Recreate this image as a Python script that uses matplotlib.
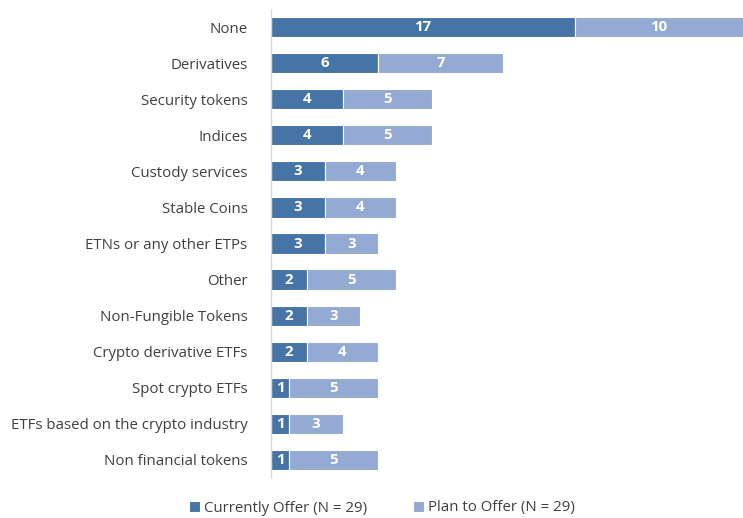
import matplotlib
matplotlib.use("Agg")
import matplotlib.pyplot as plt
import numpy as np

plt.rcParams['font.family'] = ['Open Sans', 'DejaVu Sans']

categories = ["None", "Derivatives", "Security tokens", "Indices", "Custody services",
              "Stable Coins", "ETNs or any other ETPs", "Other", "Non-Fungible Tokens",
              "Crypto derivative ETFs", "Spot crypto ETFs",
              "ETFs based on the crypto industry", "Non financial tokens"]
current = [17, 6, 4, 4, 3, 3, 3, 2, 2, 2, 1, 1, 1]
plan = [10, 7, 5, 5, 4, 4, 3, 5, 3, 4, 5, 3, 5]

dark = "#4674a7"
light = "#94aad3"

fig = plt.figure(figsize=(7.43, 5.18), dpi=100)
ax = fig.add_axes([271 / 743, 1 - 478 / 518, 1 - 271 / 743, 469 / 518])

y = np.arange(len(categories))
h = 0.56
b1 = ax.barh(y, current, height=h, color=dark, edgecolor="white", linewidth=0.8,
             label="Currently Offer (N = 29)")
b2 = ax.barh(y, plan, left=current, height=h, color=light, edgecolor="white", linewidth=0.8,
             label="Plan to Offer (N = 29)")

for bars in (b1, b2):
    ax.bar_label(bars, labels=[str(int(b.get_width())) for b in bars], label_type="center",
                 color="white", fontweight="bold", fontsize=10.8)

ax.set_xlim(0, 472 / 17.88)
ax.set_ylim(len(categories) - 0.5, -0.5)
ax.set_yticks(y)
ax.set_yticklabels(categories, fontsize=10.8, color="#404040")
ax.tick_params(axis="y", length=0, pad=17)
ax.set_xticks([])
for s in ("top", "right", "bottom"):
    ax.spines[s].set_visible(False)
ax.spines["left"].set_color("#d9d9d9")
ax.spines["left"].set_linewidth(1)

fig.legend(handles=[b1, b2], loc="center", bbox_to_anchor=(382 / 743, 1 - 508 / 518),
           ncol=2, frameon=False, fontsize=10.8, handlelength=0.75, handleheight=0.75,
           handletextpad=0.3, columnspacing=3.0, labelcolor="#404040")

fig.savefig("out.png", dpi=100)
